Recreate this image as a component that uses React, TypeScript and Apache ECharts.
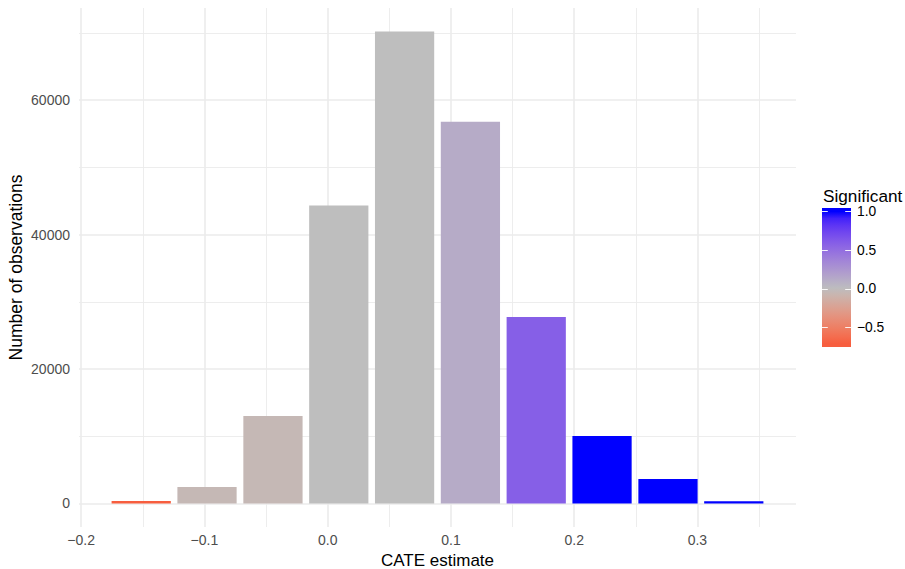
import React, { useEffect, useRef } from "react";
import * as echarts from "echarts";

// ---- data ----
const binCenters = [-0.1513, -0.0979, -0.0444, 0.009, 0.0624, 0.1158, 0.1692, 0.2226, 0.2761, 0.3295];
const binWidth = 0.0534;
const counts = [340, 2430, 13000, 44330, 70210, 56800, 27750, 10030, 3620, 320];
const significance = [-0.71, -0.05, -0.05, 0, 0, 0.12, 0.59, 1.0, 1.0, 1.0];
const xMajorTicks = [-0.2, -0.1, 0.0, 0.1, 0.2, 0.3];
const xMinorTicks = [-0.15, -0.05, 0.05, 0.15, 0.25, 0.35];
const yMajorTicks = [0, 20000, 40000, 60000];
const yMinorTicks = [10000, 30000, 50000, 70000];
const legendTicks = [1.0, 0.5, 0.0, -0.5];

// ---- colour scale: ggplot gradient2 (red - grey - blue, midpoint 0), Lab interpolation ----
const LOW = "#FF0000";
const MID = "#BEBEBE";
const HIGH = "#0000FF";

function toLin(c: number) {
  c /= 255;
  return c <= 0.04045 ? c / 12.92 : Math.pow((c + 0.055) / 1.055, 2.4);
}
function fromLin(c: number) {
  const v = c <= 0.0031308 ? 12.92 * c : 1.055 * Math.pow(c, 1 / 2.4) - 0.055;
  return Math.round(Math.min(1, Math.max(0, v)) * 255);
}
function hexToLab(h: string) {
  const r = toLin(parseInt(h.slice(1, 3), 16));
  const g = toLin(parseInt(h.slice(3, 5), 16));
  const b = toLin(parseInt(h.slice(5, 7), 16));
  const X = (0.4124 * r + 0.3576 * g + 0.1805 * b) / 0.95047;
  const Y = 0.2126 * r + 0.7152 * g + 0.0722 * b;
  const Z = (0.0193 * r + 0.1192 * g + 0.9505 * b) / 1.08883;
  const f = (t: number) => (t > 0.008856 ? Math.cbrt(t) : 7.787 * t + 16 / 116);
  const fx = f(X), fy = f(Y), fz = f(Z);
  return [116 * fy - 16, 500 * (fx - fy), 200 * (fy - fz)];
}
function labToHex(lab: number[]) {
  const fy = (lab[0] + 16) / 116;
  const fx = fy + lab[1] / 500;
  const fz = fy - lab[2] / 200;
  const inv = (t: number) => (t * t * t > 0.008856 ? t * t * t : (t - 16 / 116) / 7.787);
  const X = inv(fx) * 0.95047, Y = inv(fy), Z = inv(fz) * 1.08883;
  const r = 3.2406 * X - 1.5372 * Y - 0.4986 * Z;
  const g = -0.9689 * X + 1.8758 * Y + 0.0415 * Z;
  const b = 0.0557 * X - 0.204 * Y + 1.057 * Z;
  const hx = (n: number) => n.toString(16).padStart(2, "0");
  return "#" + hx(fromLin(r)) + hx(fromLin(g)) + hx(fromLin(b));
}
const labLow = hexToLab(LOW), labMid = hexToLab(MID), labHigh = hexToLab(HIGH);
function scaleColor(v: number) {
  const t = Math.min(1, Math.abs(v));
  const end = v < 0 ? labLow : labHigh;
  return labToHex([0, 1, 2].map((i) => labMid[i] + (end[i] - labMid[i]) * t));
}

const FONT = "Liberation Sans, Arial, Helvetica, sans-serif";

export default function App() {
  const ref = useRef<HTMLDivElement>(null);

  useEffect(() => {
    if (!ref.current) return;
    const chart = echarts.init(ref.current, undefined, { renderer: "svg" });

    // ggplot-like 5% expansion
    const left = Math.min(...binCenters) - (binWidth * 0.9) / 2;
    const right = Math.max(...binCenters) + (binWidth * 0.9) / 2;
    const xPad = (right - left) * 0.05;
    const xMin = left - xPad;
    const xMax = right + xPad;
    const yTop = Math.max(...counts);
    const yMin = -yTop * 0.05;
    const yMax = yTop * 1.05;

    const sigMin = Math.min(...significance);
    const sigMax = Math.max(...significance);

    // visualMap stops from -1..1
    const nStops = 81;
    const vmColors: string[] = [];
    for (let i = 0; i < nStops; i++) vmColors.push(scaleColor(-1 + (2 * i) / (nStops - 1)));

    // colourbar geometry (legend)
    const cbX = 822, cbY = 208, cbW = 29, cbH = 139;
    const nbin = 20;
    const half = cbH / nbin / 2;
    const valToY = (v: number) => cbY + half + ((sigMax - v) / (sigMax - sigMin)) * (cbH - 2 * half);
    const stops: { offset: number; color: string }[] = [{ offset: 0, color: scaleColor(sigMax) }];
    for (let i = 0; i < nbin; i++) {
      const v = sigMax - ((sigMax - sigMin) * i) / (nbin - 1);
      stops.push({ offset: (i + 0.5) / nbin, color: scaleColor(v) });
    }
    stops.push({ offset: 1, color: scaleColor(sigMin) });

    const legendEls: any[] = [
      {
        type: "text",
        x: cbX + 1,
        y: 195.5,
        style: { text: "Significant", fill: "#000000", fontSize: 17.2, fontFamily: FONT, align: "left", verticalAlign: "middle" },
      },
      {
        type: "rect",
        shape: { x: cbX, y: cbY, width: cbW, height: cbH },
        style: { fill: { type: "linear", x: 0, y: 0, x2: 0, y2: 1, colorStops: stops } },
      },
    ];
    legendTicks.forEach((t) => {
      const y = Math.round(valToY(t)) + 0.5;
      legendEls.push({
        type: "line",
        shape: { x1: cbX, y1: y, x2: cbX + cbW / 5, y2: y },
        style: { stroke: "rgba(255,255,255,0.9)", lineWidth: 1 },
      });
      legendEls.push({
        type: "line",
        shape: { x1: cbX + cbW - cbW / 5, y1: y, x2: cbX + cbW, y2: y },
        style: { stroke: "rgba(255,255,255,0.9)", lineWidth: 1 },
      });
      legendEls.push({
        type: "text",
        x: cbX + cbW + 6,
        y: valToY(t),
        style: {
          text: (t < 0 ? "\u2212" : "") + Math.abs(t).toFixed(1),
          fill: "#000000",
          fontSize: 13.8,
          fontFamily: FONT,
          align: "left",
          verticalAlign: "middle",
        },
      });
    });

    const gridColor = "#EBEBEB";
    const fmtX = (v: number) => (v < -1e-9 ? "\u2212" : "") + Math.abs(v).toFixed(1);

    const option: any = {
      animation: false,
      backgroundColor: "#FFFFFF",
      textStyle: { fontFamily: FONT },
      grid: { left: 79, right: 109, top: 8, bottom: 42, containLabel: false, outerBoundsMode: "none" },
      xAxis: [
        {
          type: "value",
          min: xMin,
          max: xMax,
          name: "CATE estimate",
          nameLocation: "middle",
          nameGap: 25,
          nameMoveOverlap: false,
          nameTextStyle: { color: "#000000", fontSize: 17, fontFamily: FONT },
          axisLine: { show: false },
          axisTick: { show: false, customValues: xMajorTicks },
          axisLabel: {
            customValues: xMajorTicks,
            formatter: fmtX,
            color: "#4D4D4D",
            fontSize: 14,
            fontFamily: FONT,
            margin: 6,
          },
          splitLine: { show: true, lineStyle: { color: gridColor, width: 1.6 } },
        },
        {
          type: "value",
          min: xMin,
          max: xMax,
          position: "bottom",
          axisLine: { show: false },
          axisTick: { show: false, customValues: xMinorTicks },
          axisLabel: { show: false, customValues: xMinorTicks },
          splitLine: { show: true, lineStyle: { color: gridColor, width: 0.9 } },
        },
      ],
      yAxis: [
        {
          type: "value",
          min: yMin,
          max: yMax,
          name: "Number of observations",
          nameLocation: "middle",
          nameGap: 54,
          nameMoveOverlap: false,
          nameTextStyle: { color: "#000000", fontSize: 17.5, fontFamily: FONT },
          axisLine: { show: false },
          axisTick: { show: false, customValues: yMajorTicks },
          axisLabel: {
            customValues: yMajorTicks,
            formatter: (v: number) => String(Math.round(v)),
            color: "#4D4D4D",
            fontSize: 14,
            fontFamily: FONT,
            margin: 9,
          },
          splitLine: { show: true, lineStyle: { color: gridColor, width: 1.6 } },
        },
        {
          type: "value",
          min: yMin,
          max: yMax,
          position: "left",
          axisLine: { show: false },
          axisTick: { show: false, customValues: yMinorTicks },
          axisLabel: { show: false, customValues: yMinorTicks },
          splitLine: { show: true, lineStyle: { color: gridColor, width: 0.9 } },
        },
      ],
      visualMap: {
        type: "continuous",
        show: false,
        dimension: 2,
        seriesIndex: 0,
        min: -1,
        max: 1,
        inRange: { color: vmColors },
      },
      series: [
        {
          type: "custom",
          name: "CATE",
          xAxisIndex: 0,
          yAxisIndex: 0,
          encode: { x: 0, y: 1 },
          data: binCenters.map((c, i) => [c, counts[i], significance[i]]),
          renderItem: (params: any, api: any) => {
            const x = api.value(0);
            const y = api.value(1);
            const hw = (binWidth * 0.9) / 2;
            const p0 = api.coord([x - hw, y]);
            const p1 = api.coord([x + hw, 0]);
            return {
              type: "rect",
              shape: { x: p0[0], y: p0[1], width: p1[0] - p0[0], height: p1[1] - p0[1] },
              style: { fill: api.visual("color") },
            };
          },
        },
      ],
      graphic: legendEls,
    };

    chart.setOption(option);
    return () => chart.dispose();
  }, []);

  return (
    <div
      ref={ref}
      style={{ position: "fixed", left: 0, top: 0, width: 905, height: 569, background: "#FFFFFF" }}
    />
  );
}
